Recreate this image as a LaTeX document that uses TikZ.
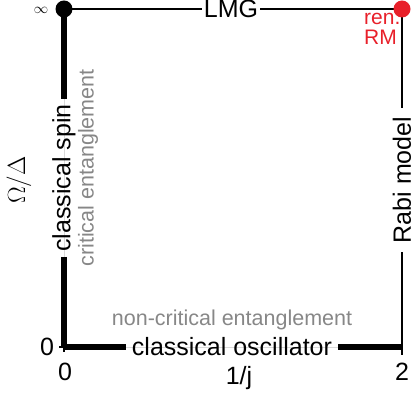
\documentclass[tikz,border=0pt]{standalone}
\usepackage{fontspec}
\setmainfont{Liberation Sans}
\definecolor{rmred}{RGB}{232,32,42}
\definecolor{txtgray}{RGB}{135,135,135}
\begin{document}
\begin{tikzpicture}[x=1pt,y=1pt,
  lbl/.style={font=\fontsize{25}{30}\selectfont, inner ysep=0pt},
  glbl/.style={font=\fontsize{21.5}{26}\selectfont, text=txtgray, inner sep=0pt},
  thinline/.style={line width=1.5pt},
  thickline/.style={line width=6pt},
  faint/.style={line width=0.8pt, black!15},
  ticklbl/.style={font=\fontsize{25}{30}\selectfont, inner sep=0pt, anchor=base}]
\useasboundingbox (0,0) rectangle (412,396);
\coordinate (O) at (64,49);
\coordinate (A) at (64,387);
\coordinate (B) at (402,387);
\coordinate (C) at (402,49);
\coordinate (tl) at (59,49);
\coordinate (tb) at (64,44);
\coordinate (tr) at (402,41);
% faint underlying frame
\draw[faint] (A) -- (O) -- (C);
% labels on edges
\node[lbl, inner xsep=2pt] (lmg) at (231,387) {LMG};
\node[lbl, inner xsep=9pt, rotate=90] (rabi) at (402,216) {Rabi model};
\node[lbl, inner xsep=5pt, rotate=90] (spin) at (64,218) {classical spin};
\node[lbl, inner xsep=6pt] (osc) at (232,49) {classical oscillator};
% edges
\draw[thinline] (A) -- (lmg.west);
\draw[thinline] (lmg.east) -- (B);
\draw[thinline] (B) -- (rabi.east);
\draw[thinline] (rabi.west) -- (C) -- (tr);
\draw[thickline] (A) -- (spin.east);
\draw[thickline] (spin.west) -- (O);
\draw[thickline] (O) -- (osc.west);
\draw[thickline] (osc.east) -- (C);
\draw[thinline] (O) -- (tl);
\draw[thinline] (O) -- (tb);
% gray annotations
\node[glbl, rotate=90] (crit) at (88,228) {critical entanglement};
\node[glbl] (noncrit) at (232,76) {non-critical entanglement};
% axis labels
\node[ticklbl] (x0) at (65,16) {0};
\node[ticklbl] (x2) at (402,16) {2};
\node[ticklbl] (xl) at (239,12) {1/j};
\node[ticklbl] (y0) at (47,40) {0};
\node[font=\fontsize{14}{16}\selectfont, inner sep=0pt] (yinf) at (41,386) {$\infty$};
\node[font=\fontsize{24}{28}\selectfont, inner sep=0pt, rotate=90] (ylab) at (19,216) {$\Omega/\Delta$};
% ren. RM
\node[font=\fontsize{21}{20}\selectfont, text=rmred, align=left, anchor=north west, inner sep=0pt] (ren) at (364,383) {ren.\\RM};
% dots
\fill[black] (A) circle (8.5);
\fill[rmred] (B) circle (8.5);
\end{tikzpicture}
\end{document}
